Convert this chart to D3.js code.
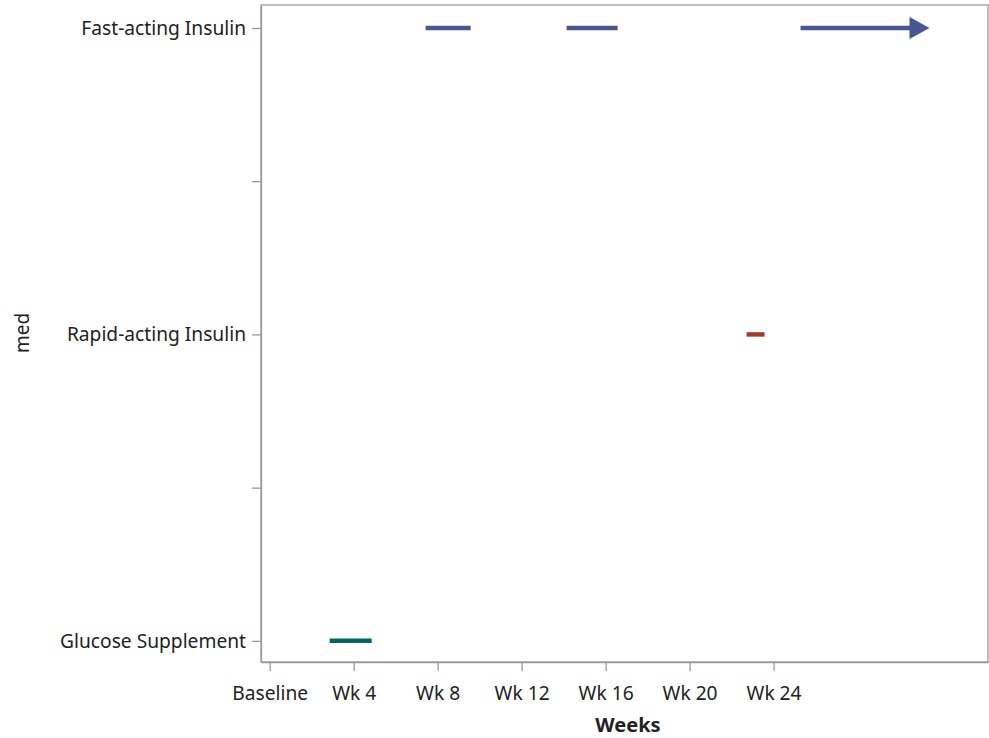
<!DOCTYPE html>
<html>
<head>
<meta charset="utf-8">
<script src="https://cdn.jsdelivr.net/npm/d3@7"></script>
<style>
  html, body { margin: 0; padding: 0; background: #fff; }
  text { font-family: "Noto Sans", "Open Sans", sans-serif; fill: #222; }
</style>
</head>
<body>
<svg id="chart" width="989" height="738"></svg>
<script>
// Categories (bottom to top on the y axis)
const meds = ["Glucose Supplement", "Rapid-acting Insulin", "Fast-acting Insulin"];
// Segments (study day start/end)
const segMed   = ["Fast-acting Insulin", "Fast-acting Insulin", "Fast-acting Insulin", "Rapid-acting Insulin", "Glucose Supplement"];
const segStart = [52, 99, 177, 159, 20];
const segEnd   = [67, 116, 220, 165, 34];
const segArrow = [false, false, true, false, false];
// X tick values (days) and labels
const xTickValues = [0, 28, 56, 84, 112, 140, 168];
const xTickLabels = ["Baseline", "Wk 4", "Wk 8", "Wk 12", "Wk 16", "Wk 20", "Wk 24"];

const colorMap = {
  "Fast-acting Insulin": "#445694",
  "Rapid-acting Insulin": "#A23A2E",
  "Glucose Supplement": "#01665E"
};

(function () {
const svg = d3.select("#chart");
const pL = 261, pR = 988, pT = 5, pB = 662;

const x = d3.scaleLinear().domain([-2.9, 239.5]).range([pL, pR]);
const y = d3.scaleLinear().domain([0.931, 3.075]).range([pB, pT]);
const yIdx = m => meds.indexOf(m) + 1;

const axisColor = "#9a9a9a";
const tickFont = "19.2px";

// frame (top and right)
svg.append("rect")
  .attr("x", pL).attr("y", pT)
  .attr("width", pR - pL).attr("height", pB - pT)
  .attr("fill", "none").attr("stroke", axisColor).attr("stroke-width", 1.3);

// X axis
const xAxis = d3.axisBottom(x)
  .tickValues(xTickValues)
  .tickFormat((d, i) => xTickLabels[i])
  .tickSize(9).tickSizeOuter(0).tickPadding(15);
const gx = svg.append("g").attr("transform", `translate(0,${pB})`).call(xAxis);
gx.select(".domain").attr("stroke", axisColor).attr("stroke-width", 1.3);
gx.selectAll(".tick line").attr("stroke", axisColor).attr("stroke-width", 1.3);
gx.selectAll(".tick text").style("font-size", tickFont).attr("fill", "#222")
  .style("font-family", "'Noto Sans', sans-serif");

// Y axis
const yAxis = d3.axisLeft(y)
  .tickValues([1, 1.5, 2, 2.5, 3])
  .tickFormat(d => Number.isInteger(d) ? meds[d - 1] : "")
  .tickSize(9).tickSizeOuter(0).tickPadding(6);
const gy = svg.append("g").attr("transform", `translate(${pL},0)`).call(yAxis);
gy.select(".domain").attr("stroke", axisColor).attr("stroke-width", 1.3);
gy.selectAll(".tick line").attr("stroke", axisColor).attr("stroke-width", 1.3);
gy.selectAll(".tick text").style("font-size", tickFont).attr("fill", "#222")
  .style("font-family", "'Noto Sans', sans-serif");

// Axis titles
svg.append("text")
  .attr("x", 628).attr("y", 732)
  .attr("text-anchor", "middle")
  .style("font-size", "20px").style("font-weight", "bold")
  .text("Weeks");
svg.append("text")
  .attr("transform", `translate(28.5,333) rotate(-90)`)
  .attr("text-anchor", "middle")
  .style("font-size", "19px")
  .text("med");

// Segments
const headLen = 20, headHalf = 11;
const segs = segMed.map((m, i) => ({ med: m, start: segStart[i], end: segEnd[i], arrow: segArrow[i] }));
svg.append("g").selectAll("line").data(segs).join("line")
  .attr("x1", d => x(d.start))
  .attr("x2", d => d.arrow ? x(d.end) - headLen + 1 : x(d.end))
  .attr("y1", d => y(yIdx(d.med)))
  .attr("y2", d => y(yIdx(d.med)))
  .attr("stroke", d => colorMap[d.med])
  .attr("stroke-width", 4.5);

svg.append("g").selectAll("path").data(segs.filter(d => d.arrow)).join("path")
  .attr("d", d => {
    const xe = x(d.end), yc = y(yIdx(d.med));
    return `M${xe},${yc} L${xe - headLen},${yc - headHalf} L${xe - headLen},${yc + headHalf} Z`;
  })
  .attr("fill", d => colorMap[d.med]);
})();
</script>
</body>
</html>
